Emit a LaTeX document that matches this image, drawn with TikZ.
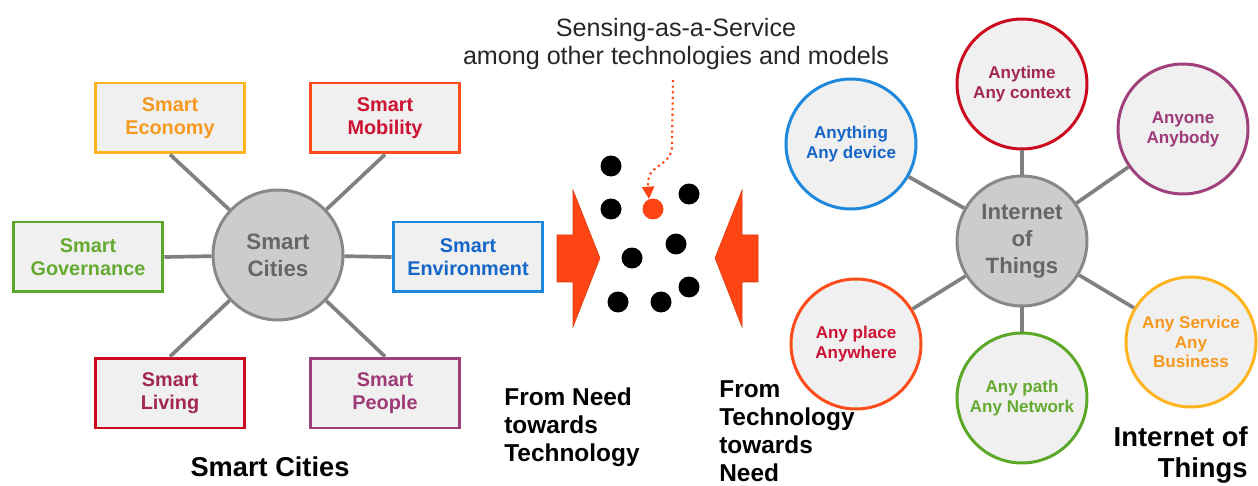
\documentclass[tikz,border=0pt]{standalone}
\usepackage{fontspec}
\setmainfont{Liberation Sans}
\usetikzlibrary{arrows.meta}

\definecolor{boxfill}{HTML}{F0F0F0}
\definecolor{hubfill}{HTML}{CCCCCC}
\definecolor{hubline}{HTML}{888888}
\definecolor{hubtext}{HTML}{666666}
\definecolor{spokegray}{HTML}{808080}
\definecolor{yellowline}{HTML}{FFB41E}
\definecolor{orangetext}{HTML}{F7981F}
\definecolor{orangeline}{HTML}{FF4A1C}
\definecolor{crimsontext}{HTML}{CC1133}
\definecolor{greenline}{HTML}{5BA829}
\definecolor{greentext}{HTML}{64AA30}
\definecolor{blueline}{HTML}{1E88DC}
\definecolor{bluetext}{HTML}{1466C8}
\definecolor{redline}{HTML}{CC0A1E}
\definecolor{maroontext}{HTML}{A3284E}
\definecolor{purpleline}{HTML}{A0407A}
\definecolor{purpletext}{HTML}{9E3A78}
\definecolor{arrowred}{HTML}{FF4514}

\tikzset{
  citybox/.style={draw, line width=1.7pt, fill=boxfill, minimum width=3cm, minimum height=1.4cm,
    inner sep=0pt, align=center, font=\fontsize{11.3}{13}\selectfont\bfseries},
  hub/.style={circle, draw=hubline, fill=hubfill, line width=1.7pt, minimum size=2.6cm, inner sep=0pt,
    align=center, text=hubtext, font=\fontsize{12.7}{15.3}\selectfont\bfseries},
  anyring/.style={circle, draw, fill=boxfill, line width=1.7pt, minimum size=2.6cm, inner sep=0pt,
    align=center, font=\fontsize{9.7}{11.3}\selectfont\bfseries},
  spoke/.style={draw=spokegray, line width=2.1pt},
  dotblack/.style={circle, fill=black, minimum size=0.42cm, inner sep=0pt},
  caption/.style={font=\fontsize{13.9}{16}\selectfont\bfseries, inner sep=0pt},
}

\begin{document}
\begin{tikzpicture}[x=0.02cm, y=-0.02cm]
  %%%%% START %%%%%
  \useasboundingbox (0,0) rectangle (1258,486);

  % smart cities
  \node[hub] (sc) at (278,255) {Smart\\Cities};
  \node[citybox, draw=yellowline, text=orangetext] (eco) at (170,118) {Smart\\Economy};
  \node[citybox, draw=orangeline, text=crimsontext] (mob) at (385,118) {Smart\\Mobility};
  \node[citybox, draw=greenline, text=greentext] (gov) at (88,257) {Smart\\Governance};
  \node[citybox, draw=blueline, text=bluetext] (env) at (468,257) {Smart\\Environment};
  \node[citybox, draw=redline, text=maroontext] (liv) at (170,393) {Smart\\Living};
  \node[citybox, draw=purpleline, text=purpletext] (peo) at (385,393) {Smart\\People};
  \draw[spoke] (sc) -- (eco.south);
  \draw[spoke] (sc) -- (mob.south);
  \draw[spoke] (sc) -- (gov.east);
  \draw[spoke] (sc) -- (env.west);
  \draw[spoke] (sc) -- (liv.north);
  \draw[spoke] (sc) -- (peo.north);
  \node[font=\fontsize{15.5}{18}\selectfont\bfseries, inner sep=0pt] (sclabel) at (270,467) {Smart Cities};

  % the two arrows
  \fill[arrowred, draw=arrowred!85!black, line width=0.3pt]
    (557,235) -- (573,235) -- (573,190) -- (600,258) -- (573,327) -- (573,282) -- (557,282) -- cycle;
  \fill[arrowred, draw=arrowred!85!black, line width=0.3pt]
    (758,235) -- (742,235) -- (742,190) -- (715,258) -- (742,327) -- (742,282) -- (758,282) -- cycle;

  % dots
  \node[dotblack] (d1) at (611,166) {};
  \node[dotblack] (d2) at (611,209) {};
  \node[dotblack] (d3) at (689,194) {};
  \node[dotblack] (d4) at (676,244) {};
  \node[dotblack] (d5) at (632,258) {};
  \node[dotblack] (d6) at (689,287) {};
  \node[dotblack] (d7) at (618,302) {};
  \node[dotblack] (d8) at (661,302) {};
  \node[circle, fill=arrowred, minimum size=0.42cm, inner sep=0pt] (sdot) at (653,209) {};

  \node[font=\fontsize{14.3}{15.5}\selectfont, text=black!85, align=center, inner sep=0pt] (saas) at (676,44)
    {Sensing-as-a-Service\\among other technologies and models};
  \coordinate (saasfoot) at (673,80);
  \draw[arrowred, line width=1.2pt, dotted, -{Triangle[width=7pt,length=7pt]}]
    (saasfoot) -- (672,145) .. controls (672,168) and (648,162) .. (648,184) -- (sdot.112);

  \node[caption, anchor=west, align=left] (need) at (504,427) {From Need\\towards\\Technology};
  \node[caption, anchor=north west, align=left] (tech) at (719,380) {From\\Technology\\towards\\Need};

  % internet of things
  \node[hub, font=\fontsize{12.6}{15.3}\selectfont\bfseries] (iot) at (1022,241) {Internet\\of\\Things};
  \node[anyring, draw=redline, text=maroontext] (atime) at (1022,84) {Anytime\\Any context};
  \node[anyring, draw=blueline, text=bluetext] (athing) at (851,144) {Anything\\Any device};
  \node[anyring, draw=purpleline, text=purpletext] (aone) at (1183,129) {Anyone\\Anybody};
  \node[anyring, draw=orangeline, text=crimsontext] (aplace) at (856,344) {Any place\\Anywhere};
  \node[anyring, draw=greenline, text=greentext] (apath) at (1022,398) {Any path\\Any Network};
  \node[anyring, draw=yellowline, text=orangetext] (aserv) at (1191,342) {Any Service\\Any\\Business};
  \draw[spoke] (iot) -- (atime);
  \draw[spoke] (iot) -- (athing);
  \draw[spoke] (iot) -- (aone);
  \draw[spoke] (iot) -- (aplace);
  \draw[spoke] (iot) -- (apath);
  \draw[spoke] (iot) -- (aserv);
  \node[font=\fontsize{15.6}{18}\selectfont\bfseries, align=right, anchor=north east, inner sep=0pt] (iotlabel)
    at (1248,426) {Internet of\\Things};
  %%%%% END %%%%%
\end{tikzpicture}
\end{document}
